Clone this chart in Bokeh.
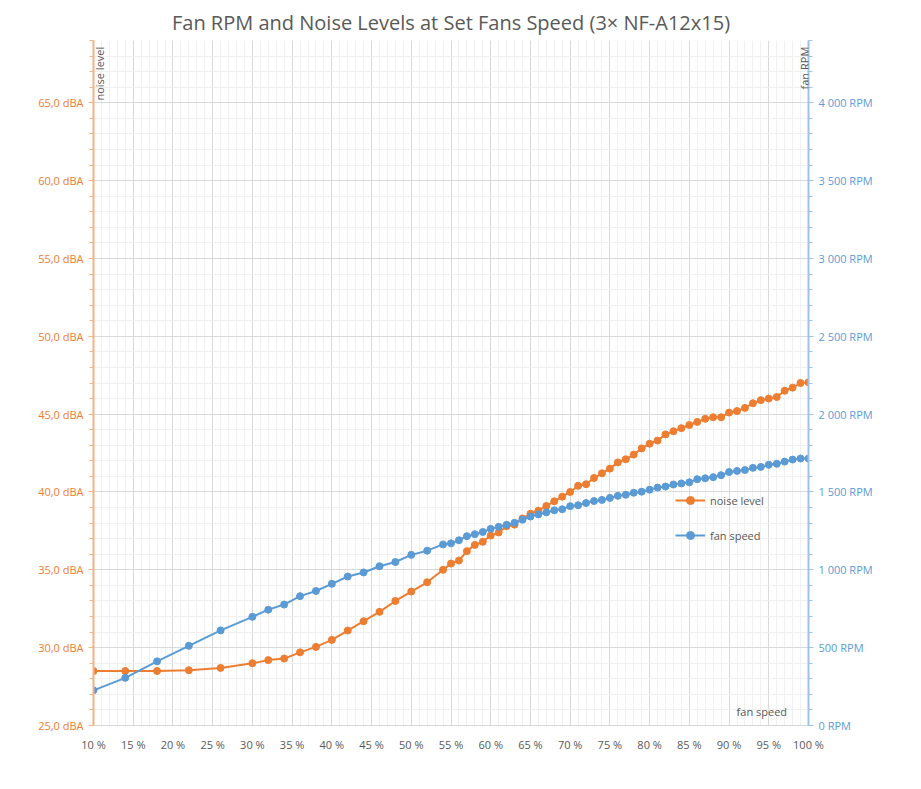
from bokeh.plotting import figure
from bokeh.models import Range1d, LinearAxis, FixedTicker, Legend, LegendItem, Label
from bokeh.embed import file_html
from bokeh.resources import INLINE

speed = [10,14,18,22,26,30,32,34,36,38,40,42,44,46,48,50,52,54] + list(range(55,101))
noise = [28.5,28.5,28.5,28.55,28.7,29.0,29.2,29.3,29.7,30.05,30.5,31.1,31.7,32.3,33.0,33.6,34.2,35.0,
         35.4,35.6,36.2,36.6,36.8,37.2,37.4,37.8,37.9,38.3,38.6,38.8,39.1,39.4,39.7,40.0,40.4,40.5,40.9,41.2,
         41.5,41.9,42.1,42.4,42.8,43.1,43.3,43.7,43.9,44.1,44.3,44.5,44.7,44.8,44.8,45.1,45.2,45.4,45.7,45.9,
         46.0,46.1,46.5,46.7,47.0,47.05]
rpm = [226,306,412,512,611,698,744,777,831,864,910,957,983,1023,1050,1096,1123,1163,
       1170,1190,1216,1229,1243,1263,1276,1289,1302,1322,1342,1356,1369,1382,1389,1409,1415,1429,1442,1449,
       1462,1475,1482,1495,1502,1515,1528,1535,1548,1555,1562,1582,1588,1595,1608,1628,1635,1641,1655,1661,
       1675,1681,1695,1708,1715,1715]
x_ticks = list(range(10, 101, 5))
db_ticks = list(range(25, 66, 5))
rpm_ticks = list(range(0, 4001, 500))

ORANGE = "#ED7D31"; BLUE = "#5B9BD5"; GRAY = "#595959"; FONT = "Open Sans"

p = figure(width=913, height=781, output_backend="svg", toolbar_location=None,
           x_range=Range1d(10, 100), y_range=Range1d(25, 69),
           min_border_left=93, min_border_right=105, min_border_bottom=56, min_border_top=40)
p.title.text = "Fan RPM and Noise Levels at Set Fans Speed (3× NF-A12x15)"
p.title.align = "center"; p.title.text_font = FONT; p.title.text_font_size = "20px"
p.title.text_font_style = "normal"; p.title.text_color = GRAY
p.outline_line_color = None
p.extra_y_ranges = {"rpm": Range1d(0, 4400)}

p.xaxis.ticker = FixedTicker(ticks=x_ticks, minor_ticks=list(range(10, 101)))
p.xaxis.major_label_overrides = {t: f"{t} %" for t in x_ticks}
p.yaxis.ticker = FixedTicker(ticks=db_ticks, minor_ticks=list(range(25, 70)))
p.yaxis.major_label_overrides = {t: f"{t},0 dBA" for t in db_ticks}
for ax in (p.xaxis[0], p.yaxis[0]):
    ax.major_label_text_font = FONT; ax.major_label_text_font_size = "11px"
ax = p.xaxis[0]
ax.axis_line_color = "#d9d9d9"; ax.major_tick_line_color = None; ax.minor_tick_line_color = None
ax.major_label_text_color = GRAY
ay = p.yaxis[0]
ay.axis_line_color = "#F4B183"; ay.axis_line_width = 2; ay.major_tick_line_color = "#F4B183"
ay.minor_tick_line_color = "#F4B183"; ay.major_tick_in = 0; ay.minor_tick_in = 0
ay.major_tick_out = 5; ay.minor_tick_out = 4
ay.major_label_text_color = ORANGE

ry = LinearAxis(y_range_name="rpm", ticker=FixedTicker(ticks=rpm_ticks, minor_ticks=list(range(0, 4401, 100))))
ry.major_label_overrides = {t: (f"{t//1000} {t%1000:03d} RPM" if t >= 1000 else f"{t} RPM") for t in rpm_ticks}
ry.major_label_text_font = FONT; ry.major_label_text_font_size = "11px"; ry.major_label_text_color = BLUE
ry.axis_line_color = "#9DC3E6"; ry.axis_line_width = 2
ry.major_tick_line_color = "#9DC3E6"; ry.minor_tick_line_color = "#9DC3E6"
ry.major_tick_in = 0; ry.minor_tick_in = 0; ry.major_tick_out = 5; ry.minor_tick_out = 4
p.add_layout(ry, "right")

p.xgrid.grid_line_color = "#d9d9d9"; p.ygrid.grid_line_color = "#d9d9d9"
p.xgrid.minor_grid_line_color = "#f0f0f0"; p.ygrid.minor_grid_line_color = "#f0f0f0"

l1 = p.line(speed, noise, color=ORANGE, line_width=2)
s1 = p.scatter(speed, noise, color=ORANGE, size=7)
l2 = p.line(speed, rpm, color=BLUE, line_width=2, y_range_name="rpm")
s2 = p.scatter(speed, rpm, color=BLUE, size=7, y_range_name="rpm")

leg = Legend(items=[LegendItem(label="noise level", renderers=[l1, s1]),
                    LegendItem(label="fan speed", renderers=[l2, s2])],
             location=(582, 180), spacing=15, background_fill_alpha=0, border_line_color=None,
             label_text_font=FONT, label_text_font_size="11px", label_text_color=GRAY, glyph_width=30)
p.add_layout(leg, "center")

p.add_layout(Label(x=11.7, y=68.6, text="noise level", angle=1.5708, text_align="right", text_baseline="bottom",
                   text_font=FONT, text_font_size="11px", text_color=GRAY))
p.add_layout(Label(x=98.6, y=68.6, text="fan RPM", angle=1.5708, text_align="right", text_baseline="top",
                   text_font=FONT, text_font_size="11px", text_color=GRAY))
p.add_layout(Label(x=97.3, y=25.4, text="fan speed", text_align="right", text_baseline="bottom",
                   text_font=FONT, text_font_size="11px", text_color=GRAY))

open("out.html", "w").write(file_html(p, INLINE))
